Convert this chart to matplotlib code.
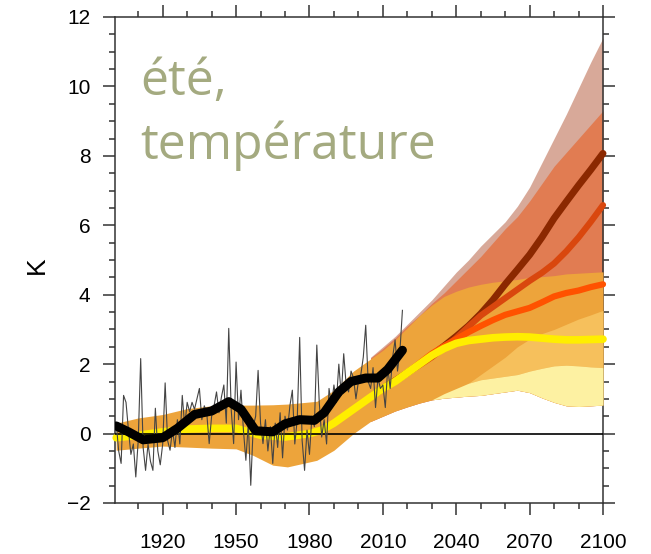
import numpy as np
import matplotlib.pyplot as plt
from matplotlib.ticker import MultipleLocator, FixedLocator

#%% Données

# bande orange (historique + enveloppe RCP4.5)
band_years = [1901, 1910, 1920, 1930, 1940, 1950, 1957, 1965, 1971, 1983, 1990, 1998,
              2005, 2010, 2015, 2020, 2025, 2030, 2035, 2040, 2045, 2050, 2055, 2060,
              2065, 2070, 2075, 2080, 2085, 2090, 2095, 2100]
band_low = [-0.48, -0.42, -0.36, -0.39, -0.42, -0.44, -0.63, -0.91, -0.96, -0.77, -0.48, 0.0,
            0.35, 0.5, 0.65, 0.77, 0.88, 0.97, 1.02, 1.05, 1.08, 1.1, 1.15, 1.2,
            1.25, 1.18, 1.03, 0.9, 0.8, 0.78, 0.8, 0.82]
band_orange_top = [0.3, 0.45, 0.55, 0.72, 0.8, 0.82, 0.82, 0.83, 0.85, 0.93, 1.25, 1.8,
                   2.15, 2.4, 2.7, 3.05, 3.4, 3.7, 3.95, 4.1, 4.22, 4.3, 4.36, 4.4,
                   4.44, 4.5, 4.52, 4.55, 4.6, 4.62, 4.64, 4.66]

# bandes futures (à partir de 2005)
fut_years = [2005, 2010, 2015, 2020, 2025, 2030, 2035, 2040, 2045, 2050, 2055, 2060,
             2065, 2070, 2075, 2080, 2085, 2090, 2095, 2100]
fut_low = [0.35, 0.5, 0.65, 0.77, 0.88, 0.97, 1.02, 1.05, 1.08, 1.1, 1.15, 1.2,
           1.25, 1.18, 1.03, 0.9, 0.8, 0.78, 0.8, 0.82]
env_top = [2.2, 2.5, 2.8, 3.15, 3.5, 3.85, 4.25, 4.65, 5.0, 5.4, 5.75, 6.1,
           6.55, 7.1, 7.8, 8.5, 9.2, 9.95, 10.7, 11.4]
salmon_top = [2.18, 2.45, 2.75, 3.1, 3.4, 3.75, 4.05, 4.4, 4.75, 5.1, 5.5, 5.9,
              6.25, 6.7, 7.2, 7.7, 8.1, 8.5, 8.9, 9.3]

# bande jaune pâle (à partir de 2030)
pale_years = [2030, 2035, 2040, 2045, 2050, 2055, 2060, 2065, 2070, 2075, 2080, 2085, 2090, 2095, 2100]
pale_low = [0.97, 1.02, 1.05, 1.08, 1.1, 1.15, 1.2, 1.25, 1.18, 1.03, 0.9, 0.8, 0.78, 0.8, 0.82]
pale_top = [0.97, 1.15, 1.3, 1.45, 1.55, 1.6, 1.65, 1.7, 1.8, 1.88, 1.95, 1.97, 1.95, 1.92, 1.9]

# bande orange clair (à partir de 2045)
lo_years = [2045, 2050, 2055, 2060, 2065, 2070, 2075, 2080, 2085, 2090, 2095, 2100]
lo_low = [1.45, 1.55, 1.6, 1.65, 1.7, 1.8, 1.88, 1.95, 1.97, 1.95, 1.92, 1.9]
lo_top = [1.45, 1.7, 1.95, 2.2, 2.5, 2.72, 2.88, 3.0, 3.15, 3.3, 3.42, 3.55]

# moyenne (historique + RCP2.6)
mean_years = [1901, 1910, 1920, 1930, 1940, 1950, 1955, 1960, 1970, 1980, 1985, 1990, 1995,
              2000, 2005, 2010, 2015, 2020, 2025, 2030, 2035, 2040, 2045, 2050, 2055,
              2060, 2065, 2070, 2075, 2080, 2085, 2090, 2095, 2100]
mean_26 = [-0.12, -0.05, 0.05, 0.13, 0.15, 0.15, 0.05, -0.05, -0.1, 0.0, 0.1, 0.3, 0.55,
           0.8, 1.05, 1.3, 1.5, 1.75, 2.0, 2.25, 2.45, 2.6, 2.68, 2.72, 2.76,
           2.78, 2.79, 2.78, 2.75, 2.72, 2.7, 2.7, 2.71, 2.72]

# scénarios
rcp_years = [2006, 2010, 2015, 2020, 2025, 2030, 2035, 2040, 2045, 2050,
             2055, 2060, 2065, 2070, 2075, 2080, 2085, 2090, 2095, 2100]
rcp85 = [1.1, 1.3, 1.52, 1.75, 2.0, 2.25, 2.52, 2.8, 3.1, 3.45,
         3.85, 4.3, 4.72, 5.15, 5.65, 6.2, 6.68, 7.15, 7.6, 8.07]
rcp60 = [1.1, 1.3, 1.52, 1.75, 1.97, 2.2, 2.47, 2.75, 3.08, 3.4,
         3.65, 3.9, 4.15, 4.4, 4.63, 4.9, 5.25, 5.65, 6.1, 6.58]
rcp45 = [1.1, 1.3, 1.52, 1.75, 2.03, 2.3, 2.52, 2.72, 2.92, 3.1,
         3.27, 3.42, 3.52, 3.62, 3.78, 3.95, 4.05, 4.12, 4.22, 4.3]

# observations annuelles
obs_years = np.arange(1901, 2019)
obs = [0.3, -0.5, -0.86, 1.1, 0.9, 0.1, -0.6, -0.3, -1.25, -0.2,
       2.16, -0.4, -1.06, -0.3, -0.8, -1.06, 0.73, -0.5, -0.9, -0.3,
       1.46, -0.2, -0.48, 0.1, -0.4, 0.4, -0.3, 1.1, 0.2, 0.9,
       0.63, 0.9, 0.7, 1.0, 1.3, 0.4, 0.8, 0.6, -0.29, 0.5,
       0.8, 1.2, 0.6, 1.05, 1.4, 0.3, 3.03, 0.7, -0.29, 2.06,
       0.4, 1.25, 0.1, -0.77, 0.3, -1.49, 0.2, 0.5, 1.82, 0.3,
       -0.29, 0.4, -0.5, 0.2, -0.86, 0.3, -0.4, 0.6, -0.7, 0.5,
       0.1, 0.8, 1.25, -0.3, 0.4, 2.77, -0.2, -1.06, 0.1, -0.6,
       0.5, 0.2, 2.55, 0.9, -0.1, 0.4, -0.3, 1.3, 0.8, 1.4,
       0.9, 2.0, 1.1, 2.3, 1.4, 1.2, 1.8, 1.6, 1.0, 1.5,
       1.7, 2.2, 3.12, 1.5, 1.3, 1.9, 0.75, 1.6, 1.3, 1.4,
       0.75, 1.9, 1.3, 2.2, 2.7, 1.8, 2.4, 3.55]

# observations lissées
smooth_years = [1901, 1906, 1912, 1920, 1926, 1933, 1940, 1947, 1952, 1958, 1965, 1970,
                1976, 1982, 1986, 1992, 1997, 2003, 2008, 2012, 2018]
smooth = [0.22, 0.05, -0.18, -0.12, 0.15, 0.55, 0.65, 0.92, 0.7, 0.08, 0.05, 0.28,
          0.4, 0.38, 0.6, 1.2, 1.5, 1.6, 1.6, 1.85, 2.4]

#%% Figure
fig = plt.figure(figsize=(6.51, 5.54), dpi=100)
ax = fig.add_axes([115/651, 1-503/554, 488/651, 486/554])

ax.fill_between(fut_years, fut_low, env_top, color='#d8a999', lw=0, zorder=1)
ax.fill_between(fut_years, fut_low, salmon_top, color='#e17c52', lw=0, zorder=2)
ax.fill_between(band_years, band_low, band_orange_top, color='#eda43b', lw=0, zorder=3)
ax.fill_between(lo_years, lo_low, lo_top, color='#f6c05c', lw=0, zorder=4)
ax.fill_between(pale_years, pale_low, pale_top, color='#fdf1a2', lw=0, zorder=4)

ax.plot(rcp_years, rcp85, color='#8b2800', lw=5, solid_capstyle='round', clip_on=False, zorder=5)
ax.plot(rcp_years, rcp60, color='#d9470e', lw=4.5, solid_capstyle='round', clip_on=False, zorder=6)
ax.plot(rcp_years, rcp45, color='#ff5200', lw=4.5, solid_capstyle='round', clip_on=False, zorder=7)
ax.plot(mean_years, mean_26, color='#ffee00', lw=5.5, solid_capstyle='round', clip_on=False, zorder=8)

ax.axhline(0, color='black', lw=1.2, zorder=9)
ax.plot(obs_years, obs, color='#444444', lw=0.8, zorder=10)
ax.plot(smooth_years, smooth, color='black', lw=6.5, solid_capstyle='round',
        solid_joinstyle='round', zorder=11)

ax.set_xlim(1900.5, 2100)
ax.set_ylim(-2, 12)
ax.xaxis.set_major_locator(FixedLocator([1920, 1950, 1980, 2010, 2040, 2070, 2100]))
ax.xaxis.set_minor_locator(MultipleLocator(10))
ax.yaxis.set_major_locator(MultipleLocator(2))
ax.yaxis.set_minor_locator(MultipleLocator(0.5))
ax.tick_params(which='both', direction='out', top=True, right=True, color='#333333', width=1.1)
ax.tick_params(which='major', length=8.6, labelsize=15)
ax.tick_params(axis='x', which='major', pad=13)
ax.tick_params(axis='y', which='major', pad=9)
ax.tick_params(which='minor', length=4.6)
for lab in ax.get_xticklabels() + ax.get_yticklabels():
    lab.set_family('Liberation Sans')
for s in ax.spines.values():
    s.set_color('#333333')
    s.set_linewidth(1.1)

fig.text(37/651, 1-265/554, 'K', rotation=90, ha='center', va='center',
         fontsize=19, family='Liberation Sans')

fig.text(140/651, 1-95/554, 'été,', fontsize=36, family='Open Sans',
         color='#a4aa80', va='baseline', ha='left')
fig.text(140/651, 1-159/554, 'température', fontsize=36, family='Open Sans',
         color='#a4aa80', va='baseline', ha='left')

fig.savefig('out.png', dpi=100)
